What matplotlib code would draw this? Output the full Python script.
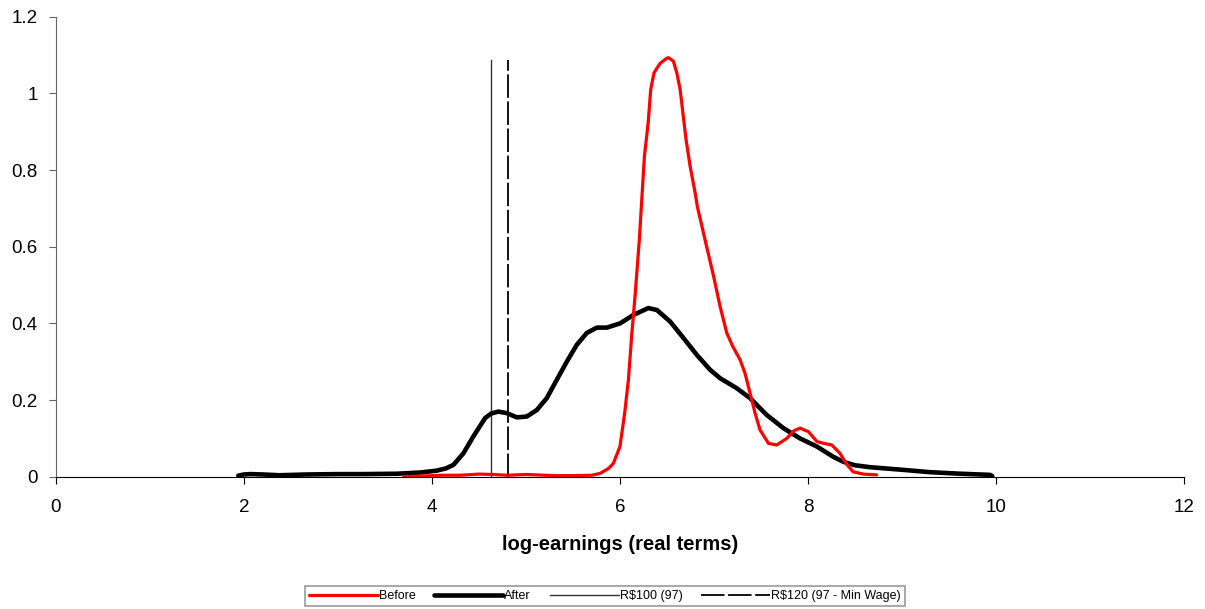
import matplotlib.pyplot as plt
import numpy as np

plt.rcParams['font.family'] = ['Liberation Sans', 'DejaVu Sans']

# Density of log-earnings before (red) and after (black)
before_x = [3.70, 3.90, 4.10, 4.30, 4.50, 4.65, 4.80, 5.00, 5.10, 5.30, 5.50, 5.70,
            5.79, 5.88, 5.93, 6.00, 6.05, 6.09, 6.125, 6.16, 6.206, 6.26, 6.30, 6.327,
            6.363, 6.427, 6.49, 6.515, 6.568, 6.604, 6.64, 6.703, 6.746, 6.80, 6.823,
            6.905, 6.994, 7.065, 7.136, 7.20, 7.278, 7.33, 7.384, 7.437, 7.49, 7.58,
            7.668, 7.774, 7.85, 7.916, 7.96, 8.004, 8.094, 8.17, 8.253, 8.341, 8.41,
            8.48, 8.59, 8.73]
before_y = [0.000, 0.002, 0.004, 0.004, 0.007, 0.006, 0.004, 0.006, 0.005, 0.003, 0.003, 0.004,
            0.009, 0.022, 0.035, 0.079, 0.166, 0.253, 0.370, 0.470, 0.618, 0.836, 0.923, 1.010,
            1.054, 1.078, 1.090, 1.093, 1.084, 1.054, 1.010, 0.879, 0.810, 0.740, 0.705,
            0.618, 0.525, 0.444, 0.375, 0.340, 0.305, 0.270, 0.218, 0.166, 0.122, 0.087,
            0.083, 0.100, 0.120, 0.127, 0.122, 0.118, 0.092, 0.087, 0.083, 0.061, 0.033,
            0.013, 0.007, 0.005]

after_x = [1.94, 2.00, 2.07, 2.20, 2.38, 2.67, 3.00, 3.27, 3.63, 3.87, 4.05, 4.15,
           4.228, 4.334, 4.44, 4.565, 4.63, 4.706, 4.796, 4.902, 5.008, 5.115, 5.221,
           5.328, 5.434, 5.54, 5.647, 5.753, 5.86, 6.001, 6.143, 6.302, 6.392, 6.533,
           6.675, 6.817, 6.959, 7.065, 7.242, 7.384, 7.562, 7.738, 7.916, 8.094, 8.27,
           8.377, 8.50, 8.66, 9.015, 9.30, 9.618, 9.937, 9.96]
after_y = [0.003, 0.006, 0.007, 0.006, 0.004, 0.006, 0.007, 0.007, 0.008, 0.011, 0.016, 0.022,
           0.031, 0.061, 0.105, 0.153, 0.165, 0.170, 0.166, 0.155, 0.157, 0.174, 0.205,
           0.253, 0.300, 0.344, 0.375, 0.389, 0.389, 0.400, 0.422, 0.440, 0.435, 0.405,
           0.362, 0.318, 0.279, 0.257, 0.231, 0.205, 0.161, 0.127, 0.100, 0.079, 0.052,
           0.039, 0.030, 0.025, 0.018, 0.012, 0.008, 0.005, 0.002]

# minimum wage reference lines
r100_x = 4.63
r120_x = 4.81
line_top = 1.088

fig = plt.figure(figsize=(12.05, 6.09), dpi=100)
ax = fig.add_axes([0.0464, 0.2171, 0.9362, 0.7556])

ax.plot(before_x, before_y, color='#ff0000', lw=2.3, label='Before', zorder=4,
        solid_joinstyle='round', solid_capstyle='round')
ax.plot(after_x, after_y, color='black', lw=3.3, label='After', zorder=3,
        solid_joinstyle='round', solid_capstyle='round')
ax.plot([r100_x, r100_x], [0, line_top], color='#333333', lw=1.0, label='R$100 (97)', zorder=2)
ax.plot([r120_x, r120_x], [0, line_top], color='black', lw=1.3, dashes=(13, 2),
        label='R$120 (97 - Min Wage)', zorder=2)

ax.set_xlim(0, 12)
ax.set_ylim(0, 1.2)
ax.set_xticks(np.arange(0, 13, 2))
ax.set_yticks([0, 0.2, 0.4, 0.6, 0.8, 1, 1.2])
ax.set_yticklabels(['0', '0.2', '0.4', '0.6', '0.8', '1', '1.2'])

ax.spines['top'].set_visible(False)
ax.spines['right'].set_visible(False)
ax.spines['left'].set_color('#666666')
ax.spines['bottom'].set_color('black')
ax.tick_params(axis='x', direction='out', length=5, pad=11, labelsize=13.5, color='black')
ax.tick_params(axis='y', direction='out', length=5, pad=8, labelsize=13.5, color='#666666')

ax.set_xlabel('log-earnings (real terms)', fontsize=14.5, fontweight='bold', labelpad=14)

leg = fig.legend(loc='center', bbox_to_anchor=(0.502, 0.021), ncol=4, fontsize=9,
                 frameon=True, fancybox=False, handlelength=5.5, handletextpad=0.1,
                 columnspacing=1.5, borderpad=0.3)
leg.get_frame().set_edgecolor('#808080')
leg.get_frame().set_linewidth(1.2)

plt.savefig('out.png', dpi=100)
